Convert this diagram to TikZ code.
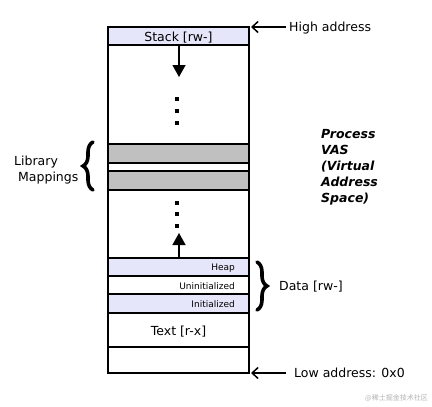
\documentclass[tikz,border=0pt]{standalone}
\usepackage{fontspec}
\setmainfont{DejaVu Sans}
\newfontfamily\cjkfont{Noto Sans CJK SC}
\usetikzlibrary{arrows.meta,decorations.pathreplacing}
\begin{document}
\begin{tikzpicture}[x=1pt,y=-1pt,
  seg/.style={draw,line width=2pt,inner sep=0pt,outer sep=0pt,anchor=north west,minimum width=141pt},
  lav/.style={fill=lavfill},
  lib/.style={fill=libgray},
  lbl/.style={font=\fontsize{12.5}{15}\selectfont,inner sep=0pt},
  small/.style={font=\fontsize{9}{10}\selectfont,inner sep=0pt,anchor=east},
  growarrow/.style={line width=1.5pt,-{Triangle[width=13pt,length=12pt]}},
  addrarrow/.style={line width=1.5pt,-{Straight Barb[length=6pt,width=11pt]}},
  bracestyle/.style={line width=3.6pt,line cap=round,decorate,decoration={brace,amplitude=10pt,aspect=0.5}},
  dotmark/.style={fill=black,minimum width=3.5pt,minimum height=4.5pt,inner sep=0pt}
]
\definecolor{lavfill}{RGB}{230,230,250}
\definecolor{libgray}{RGB}{192,192,192}
\useasboundingbox (0,0) rectangle (432,407);
% segments
\node[seg,lav,minimum height=18pt] (stack) at (108,27) {};
\node[seg,minimum height=99pt] (gapA) at (108,45) {};
\node[seg,lib,minimum height=19pt] (libA) at (108,144) {};
\node[seg,minimum height=8pt] (gapB) at (108,163) {};
\node[seg,lib,minimum height=19pt] (libB) at (108,171) {};
\node[seg,minimum height=68pt] (gapC) at (108,190) {};
\node[seg,lav,minimum height=18pt] (heap) at (108,258) {};
\node[seg,minimum height=18pt] (uninit) at (108,276) {};
\node[seg,lav,minimum height=19pt] (init) at (108,294) {};
\node[seg,minimum height=34pt] (text) at (108,313) {};
\node[seg,minimum height=26pt] (bottom) at (108,347) {};
% labels in segments
\node[lbl,yshift=-1.5pt] (stacklbl) at (stack.center) {Stack [rw-]};
\node[small] (heaplbl) at (235,268) {Heap};
\node[small] (uninitlbl) at (235,286) {Uninitialized};
\node[small] (initlbl) at (235,304) {Initialized};
\node[lbl,yshift=-2pt] (textlbl) at (text.center) {Text [r-x]};
% growth arrows
\coordinate (downend) at (179,77);
\draw[growarrow] (stack.south -| downend) -- (downend);
\coordinate (upend) at (179,233);
\draw[growarrow] (heap.north -| upend) -- (upend);
% dots
\foreach \yy [count=\i] in {99,111,123} \node[dotmark] (dA\i) at (177,\yy) {};
\foreach \yy [count=\i] in {203,214,226} \node[dotmark] (dB\i) at (177,\yy) {};
% addresses
\node[lbl,anchor=west] (high) at (289,28.5) {High address};
\node[lbl,anchor=west] (low) at (294,373) {Low address: 0x0};
\draw[addrarrow] (289,27) ++(-3,0) coordinate (hs) -- (stack.north east -| 251,0);
\draw[addrarrow] (low.west) ++(-8,0) coordinate (ls) -- (bottom.south east -| 251,0);
% braces
\coordinate (lbA) at (93,190);
\coordinate (lbB) at (93,142);
\draw[bracestyle] (lbA) -- (lbB);
\node[lbl,anchor=west] (libl1) at (14,162) {Library};
\node[lbl,anchor=west] (libl2) at (18,178) {Mappings};
\coordinate (dbA) at (257,262);
\coordinate (dbB) at (257,310);
\draw[bracestyle] (dbA) -- (dbB);
\node[lbl,anchor=west] (datal) at (279,286.5) {Data [rw-]};
% process VAS
\node[lbl,anchor=north west,align=left,font=\fontsize{12.5}{16}\selectfont\bfseries\itshape] (vas) at (321,129) {Process\\VAS\\(Virtual\\Address\\Space)};
% watermark
\node[inner sep=0pt,anchor=east,text=black!30,font=\cjkfont\fontsize{7}{8}\selectfont] (wm) at (428,398) {@稀土掘金技术社区};
\end{tikzpicture}
\end{document}
